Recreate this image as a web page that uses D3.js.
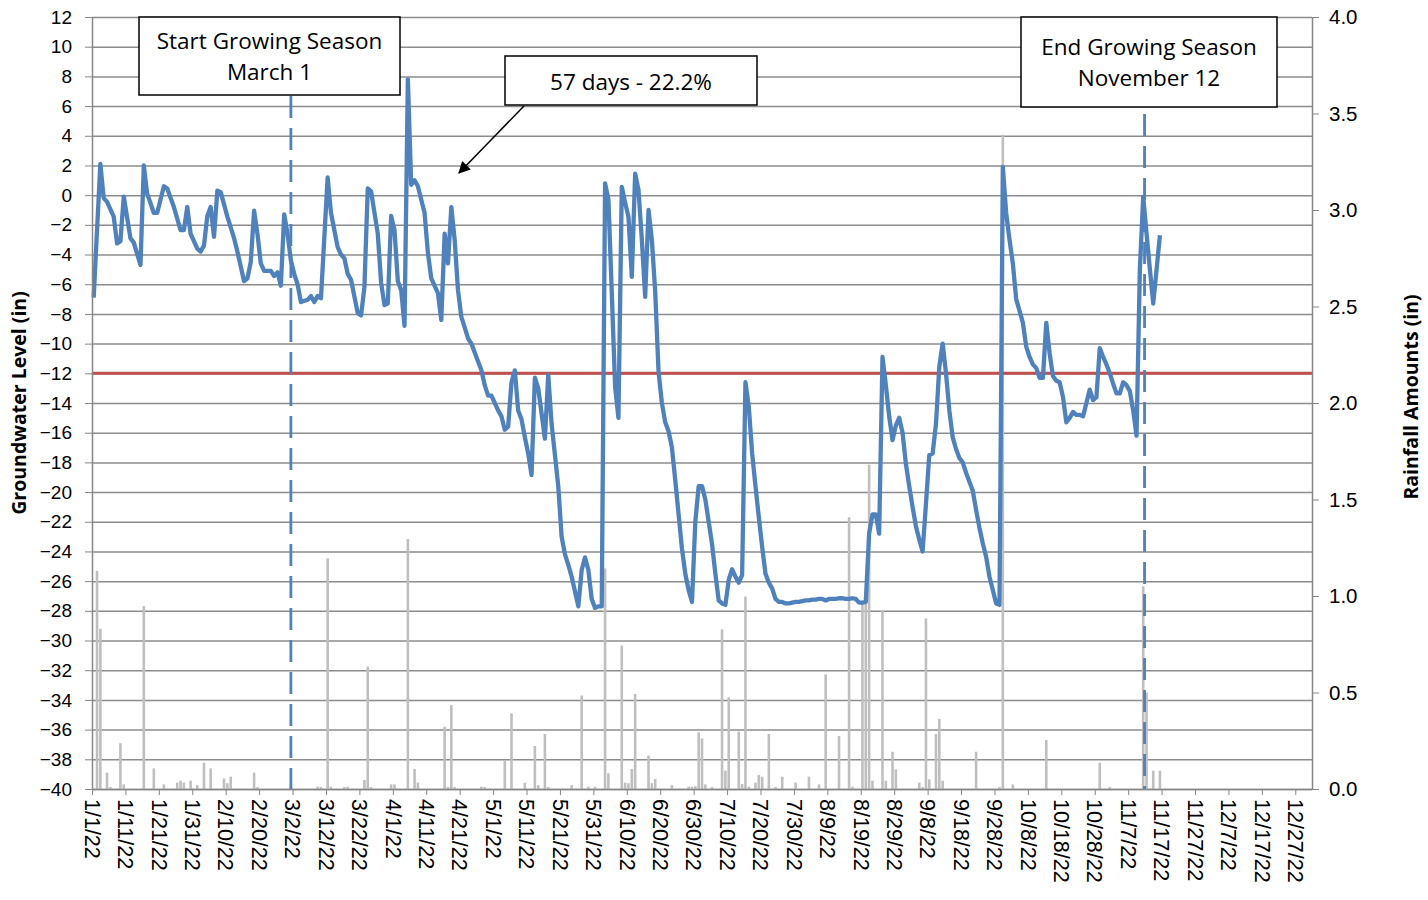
<!DOCTYPE html>
<html>
<head>
<meta charset="utf-8">
<script src="https://cdn.jsdelivr.net/npm/d3@7"></script>
<style>
body { margin: 0; background: #fff; }
svg { font-family: "Open Sans", sans-serif; }
.axis path, .axis line { stroke: #868686; }
.axis text { fill: #000; font-size: 19px; }
</style>
</head>
<body>
<script>
// groundwater level (in): [day of 2022 (0 = Jan 1), level]
var groundwater = [
  [0,-6.9],[2,2.1],[3,-0.2],[4,-0.45],[6,-1.45],[7,-3.25],[8,-3.1],[9,-0.1],[11,-2.9],[12,-3.2],
  [14,-4.7],[15,2.0],[16,0.1],[18,-1.2],[19,-1.2],[21,0.6],[22,0.45],[24,-0.8],[26,-2.35],[27,-2.35],
  [28,-0.8],[29,-2.6],[31,-3.6],[32,-3.8],[33,-3.4],[34,-1.4],[35,-0.8],[36,-2.8],[37,0.3],[38,0.2],
  [40,-1.45],[42,-2.9],[43,-3.8],[45,-5.8],[46,-5.6],[47,-4.5],[48,-1.05],[49,-2.6],[50,-4.6],[51,-5.1],
  [53,-5.1],[54,-5.45],[55,-5.2],[56,-6.1],[57,-1.3],[58,-2.6],[59,-4.4],[60,-5.3],[61,-6.0],[62,-7.2],
  [64,-7.05],[65,-6.8],[66,-7.2],[67,-6.8],[68,-6.95],[70,1.2],[71,-1.2],[73,-3.5],[74,-4.0],[75,-4.25],
  [76,-5.3],[77,-5.7],[79,-7.95],[80,-8.1],[81,-6.2],[82,0.45],[83,0.25],[85,-2.6],[86,-5.9],[87,-7.4],
  [88,-7.3],[89,-1.4],[90,-2.35],[91,-5.8],[92,-6.4],[93,-8.8],[94,7.8],[95,0.7],[96,1.0],[97,0.6],
  [99,-1.2],[100,-3.9],[101,-5.6],[103,-6.6],[104,-8.4],[105,-2.6],[106,-4.6],[107,-0.8],[108,-3.0],[109,-6.4],
  [110,-8.2],[111,-8.9],[112,-9.65],[113,-10.0],[114,-10.6],[115,-11.2],[116,-11.8],[117,-12.8],[118,-13.5],[119,-13.5],
  [120,-14.0],[121,-14.5],[122,-14.9],[123,-15.8],[124,-15.6],[125,-12.6],[126,-11.8],[127,-14.5],[128,-15.1],[129,-16.3],
  [130,-17.4],[131,-18.85],[132,-12.3],[133,-13.0],[134,-14.7],[135,-16.4],[136,-12.1],[137,-15.4],[138,-17.5],[139,-19.6],
  [140,-23.0],[141,-24.2],[142,-24.9],[143,-25.7],[144,-26.7],[145,-27.7],[146,-25.25],[147,-24.4],[148,-25.25],[149,-27.2],
  [150,-27.8],[151,-27.7],[152,-27.7],[153,0.8],[154,-0.3],[155,-6.5],[156,-12.9],[157,-15.0],[158,0.55],[159,-0.5],
  [160,-1.45],[161,-5.5],[162,1.45],[163,0.35],[164,-3.0],[165,-6.85],[166,-1.0],[167,-3.0],[168,-6.5],[169,-11.9],
  [170,-14.0],[171,-15.3],[172,-15.9],[173,-17.0],[174,-19.2],[175,-21.5],[176,-23.8],[177,-25.5],[178,-26.6],[179,-27.4],
  [180,-22.0],[181,-19.6],[182,-19.6],[183,-20.5],[184,-22.0],[185,-23.5],[186,-25.5],[187,-27.3],[188,-27.5],[189,-27.6],
  [190,-25.9],[191,-25.2],[192,-25.7],[193,-26.1],[194,-25.6],[195,-12.6],[196,-14.25],[197,-17.4],[198,-19.6],[199,-21.7],
  [200,-23.7],[201,-25.5],[202,-26.1],[203,-26.5],[204,-27.2],[205,-27.4],[206,-27.4],[207,-27.5],[208,-27.5],[209,-27.45],
  [210,-27.4],[211,-27.4],[212,-27.35],[213,-27.3],[214,-27.3],[215,-27.25],[216,-27.25],[217,-27.2],[218,-27.2],[219,-27.3],
  [220,-27.2],[221,-27.2],[222,-27.2],[223,-27.15],[224,-27.15],[225,-27.2],[226,-27.2],[227,-27.15],[228,-27.2],[229,-27.45],
  [230,-27.45],[231,-27.4],[232,-22.8],[233,-21.5],[234,-21.5],[235,-22.8],[236,-10.9],[237,-12.8],[238,-14.9],[239,-16.5],
  [240,-15.5],[241,-15.0],[242,-16.0],[243,-18.1],[244,-19.6],[245,-21.0],[246,-22.3],[247,-23.2],[248,-24.0],[249,-20.8],
  [250,-17.5],[251,-17.4],[252,-15.4],[253,-11.55],[254,-10.0],[255,-12.0],[256,-14.5],[257,-16.3],[258,-17.1],[259,-17.7],
  [260,-18.0],[261,-18.7],[262,-19.3],[263,-19.9],[264,-21.2],[265,-22.4],[266,-23.45],[267,-24.35],[268,-25.7],[269,-26.6],
  [270,-27.5],[271,-27.6],[272,1.9],[273,-1.2],[274,-3.0],[275,-4.6],[276,-7.0],[277,-7.8],[278,-8.6],[279,-10.2],
  [280,-10.9],[281,-11.4],[282,-11.65],[283,-12.3],[284,-12.3],[285,-8.6],[286,-10.65],[287,-12.2],[288,-12.5],[289,-12.6],
  [290,-13.6],[291,-15.3],[292,-15.0],[293,-14.6],[294,-14.8],[295,-14.8],[296,-14.9],[297,-14.0],[298,-13.1],[299,-13.8],
  [300,-13.6],[301,-10.3],[302,-10.9],[303,-11.4],[304,-12.0],[305,-12.7],[306,-13.35],[307,-13.35],[308,-12.6],[309,-12.8],
  [310,-13.2],[311,-14.5],[312,-16.2],[313,-5.0],[314,-0.1],[315,-2.6],[316,-5.0],[317,-7.3],[318,-5.0],[319,-2.7]
];

// daily rainfall (in): [day of 2022, amount]
var rainfall = [
  [1,1.13],[2,0.83],[4,0.085],[5,0.01],[8,0.237],[9,0.024],[15,0.948],[18,0.107],[21,0.024],[25,0.033],
  [26,0.043],[27,0.033],[29,0.043],[31,0.02],[33,0.136],[35,0.107],[39,0.055],[40,0.03],[41,0.064],[48,0.085],
  [49,0.01],[59,0.012],[67,0.012],[68,0.01],[70,1.195],[71,0.012],[75,0.01],[76,0.012],[81,0.047],[82,0.634],
  [83,0.01],[89,0.024],[90,0.024],[94,1.295],[96,0.104],[97,0.033],[105,0.323],[106,0.01],[107,0.435],[108,0.01],
  [116,0.012],[117,0.01],[123,0.15],[125,0.392],[129,0.033],[132,0.223],[133,0.02],[135,0.285],[136,0.01],[143,0.02],
  [146,0.484],[148,0.012],[150,0.012],[153,1.143],[154,0.081],[158,0.743],[159,0.033],[160,0.03],[161,0.104],[162,0.492],
  [166,0.173],[167,0.03],[168,0.052],[173,0.02],[178,0.012],[179,0.012],[180,0.014],[181,0.294],[182,0.262],[183,0.024],
  [185,0.01],[188,0.827],[189,0.095],[190,0.475],[193,0.297],[194,0.026],[195,0.997],[196,0.012],[198,0.033],[199,0.073],
  [200,0.064],[202,0.285],[204,0.01],[206,0.064],[210,0.033],[214,0.064],[217,0.024],[219,0.594],[223,0.275],[226,1.408],
  [227,0.012],[230,0.96],[231,0.96],[232,1.68],[233,0.043],[236,0.927],[237,0.043],[239,0.193],[240,0.102],[247,0.033],
  [248,0.01],[249,0.884],[250,0.05],[252,0.285],[253,0.363],[254,0.043],[264,0.193],[271,0.01],[272,3.39],[275,0.024],
  [285,0.254],[301,0.136],[304,0.01],[314,1.05],[315,0.5],[317,0.095],[319,0.095]
];

var levelTicks = d3.range(-40, 13, 2);
var rainTicks = [0, 0.5, 1.0, 1.5, 2.0, 2.5, 3.0, 3.5, 4.0];
var dateTickOffsets = d3.range(0, 361, 10);      // 1/1/22, 1/11/22 ... 12/27/22
var seasonStart = "3/1/22", seasonEnd = "11/12/22";
var thresholdLevel = -12;

var parseDate = d3.timeParse("%m/%d/%y");
var year0 = new Date(2022, 0, 1);
function dayDate(d) { return d3.timeDay.offset(year0, d); }
function dayMid(d) { return d3.timeHour.offset(dayDate(d), 12); }   // points sit mid-day

var svg = d3.select("body").append("svg")
    .attr("width", 1428)
    .attr("height", 900);

var plotLeft = 92, plotRight = 1312, plotTop = 17, plotBottom = 789;

var x = d3.scaleTime().domain([year0, new Date(2023, 0, 1)]).range([plotLeft, plotRight]),
    y = d3.scaleLinear().domain([-40, 12]).range([plotBottom, plotTop]),
    yRain = d3.scaleLinear().domain([0, 4]).range([plotBottom, plotTop]);

// grid
svg.append("g")
    .attr("transform", "translate(" + plotLeft + ",0)")
    .call(d3.axisLeft(y).tickValues(levelTicks).tickSize(-(plotRight - plotLeft)).tickFormat(""))
    .call(function(g) { g.select(".domain").remove(); })
    .selectAll("line").attr("stroke", "#8c8c8c").attr("stroke-width", 1.5);

// rainfall bars
svg.append("g").selectAll("rect")
    .data(rainfall)
  .enter().append("rect")
    .attr("x", function(d) { return x(dayMid(d[0])) - 1.3; })
    .attr("width", 2.6)
    .attr("y", function(d) { return yRain(d[1]); })
    .attr("height", function(d) { return plotBottom - yRain(d[1]); })
    .attr("fill", "#bfbfbf");

// threshold line
svg.append("line")
    .attr("x1", plotLeft).attr("x2", plotRight)
    .attr("y1", y(thresholdLevel)).attr("y2", y(thresholdLevel))
    .attr("stroke", "#c0504d").attr("stroke-width", 3);

// growing season markers
svg.append("line")
    .attr("x1", x(d3.timeHour.offset(parseDate(seasonStart), 12)))
    .attr("x2", x(d3.timeHour.offset(parseDate(seasonStart), 12)))
    .attr("y1", 96).attr("y2", plotBottom)
    .attr("stroke", "#4f81bd").attr("stroke-width", 2.8).attr("stroke-dasharray", "22,10");
svg.append("line")
    .attr("x1", x(d3.timeHour.offset(parseDate(seasonEnd), 12)) - 2)
    .attr("x2", x(d3.timeHour.offset(parseDate(seasonEnd), 12)) - 2)
    .attr("y1", 114).attr("y2", plotBottom)
    .attr("stroke", "#4f81bd").attr("stroke-width", 2.8).attr("stroke-dasharray", "22,10");

// groundwater line
var line = d3.line()
    .x(function(d) { return x(dayMid(d[0])); })
    .y(function(d) { return y(d[1]); });

svg.append("path")
    .datum(groundwater)
    .attr("d", line)
    .attr("fill", "none")
    .attr("stroke", "#4f81bd")
    .attr("stroke-width", 4.3)
    .attr("stroke-linejoin", "round");

// axes
svg.append("g")
    .attr("class", "axis")
    .attr("transform", "translate(" + plotLeft + ",0)")
    .call(d3.axisLeft(y).tickValues(levelTicks).tickSize(7).tickPadding(13).tickSizeOuter(0));

svg.append("g")
    .attr("class", "axis")
    .attr("transform", "translate(" + plotRight + ",0)")
    .call(d3.axisRight(yRain).tickValues(rainTicks).tickSize(7).tickPadding(10).tickSizeOuter(0)
      .tickFormat(d3.format(".1f")))
  .selectAll("text")
    .style("font-size", "20.5px");

svg.append("g")
    .attr("class", "axis")
    .attr("transform", "translate(0," + plotBottom + ")")
    .call(d3.axisBottom(x).tickValues(dateTickOffsets.map(dayDate))
      .tickFormat(d3.timeFormat("%-m/%-d/%y")).tickSize(6).tickSizeOuter(0))
  .selectAll("text")
    .style("font-size", "21.5px")
    .attr("transform", "rotate(90)")
    .attr("x", 10)
    .attr("y", 0)
    .attr("dy", "0.36em")
    .style("text-anchor", "start");

svg.selectAll(".axis .domain").attr("stroke-width", 1.5);

// axis titles
svg.append("text")
    .attr("transform", "translate(26," + ((plotTop + plotBottom) / 2) + ") rotate(-90)")
    .attr("text-anchor", "middle")
    .style("font-size", "19.5px").style("font-weight", "bold")
    .text("Groundwater Level (in)");

svg.append("text")
    .attr("transform", "translate(1418," + ((plotTop + plotBottom) / 2 - 6) + ") rotate(-90)")
    .attr("text-anchor", "middle")
    .style("font-size", "19.5px").style("font-weight", "bold")
    .text("Rainfall Amounts (in)");

// annotation boxes
function box(x0, y0, w, h, lines, lineY) {
  svg.append("rect")
      .attr("x", x0).attr("y", y0).attr("width", w).attr("height", h)
      .attr("fill", "#fff").attr("stroke", "#000").attr("stroke-width", 1.5);
  lines.forEach(function(t, i) {
    svg.append("text")
        .attr("x", x0 + w / 2).attr("y", lineY[i])
        .attr("text-anchor", "middle")
        .style("font-size", "22.5px")
        .text(t);
  });
}
box(139, 17, 261, 78, ["Start Growing Season", "March 1"], [49, 80]);
box(1021, 17, 256, 90, ["End Growing Season", "November 12"], [55, 86]);
box(505, 56, 252, 49, ["57 days - 22.2%"], [90]);

// arrow
svg.append("defs").append("marker")
    .attr("id", "arrow")
    .attr("viewBox", "0 0 10 10")
    .attr("refX", 9).attr("refY", 5)
    .attr("markerWidth", 15).attr("markerHeight", 12)
    .attr("markerUnits", "userSpaceOnUse")
    .attr("orient", "auto")
  .append("path")
    .attr("d", "M0,0 L10,5 L0,10 z")
    .attr("fill", "#000");
svg.append("line")
    .attr("x1", 524).attr("y1", 106).attr("x2", 459).attr("y2", 173)
    .attr("stroke", "#000").attr("stroke-width", 1.5)
    .attr("marker-end", "url(#arrow)");
</script>
</body>
</html>
